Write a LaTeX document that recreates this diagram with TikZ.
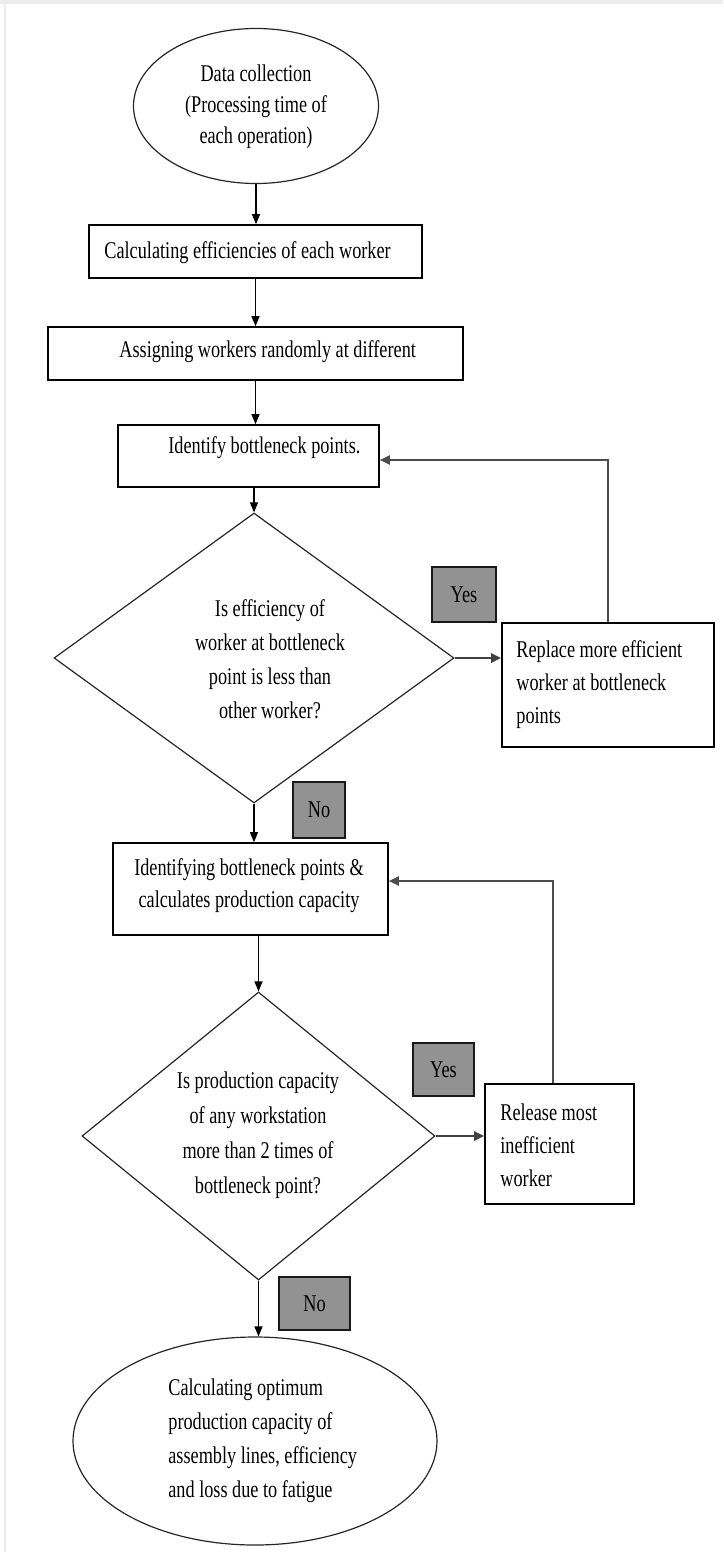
\documentclass[tikz,border=0pt]{standalone}
\usepackage{fontspec}
\setmainfont[FakeStretch=0.76]{Liberation Serif}
\usetikzlibrary{shapes.geometric,arrows.meta}
\definecolor{lblgray}{RGB}{146,146,146}
\definecolor{framegray}{RGB}{236,236,236}
\tikzset{
  box/.style={draw=black, line width=0.8pt, rectangle, inner sep=0pt, fill=white},
  dia/.style={draw=black!85, line width=0.6pt, diamond, inner sep=0pt, aspect=1},
  oval/.style={draw=black!85, line width=0.6pt, ellipse, inner sep=0pt},
  lbl/.style={draw=black!90, line width=0.9pt, fill=lblgray, rectangle, inner sep=0pt, font=\fontsize{12}{16}\selectfont},
  txt/.style={inner sep=0pt, font=\fontsize{12}{#1}\selectfont},
  txt/.default=17,
  arr/.style={line width=0.6pt, -{Triangle[length=5pt,width=4pt]}},
  thickarr/.style={line width=1.3pt, draw=black!75, -{Triangle[length=5pt,width=4.5pt]}},
  fb/.style={line width=1.0pt, draw=black!70, -{Triangle[length=5pt,width=4.5pt]}}
}
\begin{document}
\begin{tikzpicture}[x=0.5pt,y=-0.5pt]
\useasboundingbox (0,0) rectangle (723,1552);
\fill[framegray] (0,0) rectangle (723,4);
\draw[framegray, line width=0.8pt] (5,4) -- (5,1552);

% shapes
\node[oval, minimum width=122.5pt, minimum height=77.5pt] (e1) at (256,106) {};
\node[box, minimum width=166.5pt, minimum height=26.5pt] (b1) at (255.5,251.5) {};
\node[box, minimum width=207.5pt, minimum height=26.5pt] (b2) at (255.5,353.5) {};
\node[box, minimum width=130.5pt, minimum height=31pt] (b3) at (248.5,456) {};
\node[dia, minimum width=200pt, minimum height=145pt] (d1) at (254,658) {};
\node[lbl, minimum width=32pt, minimum height=27.5pt] (yes1) at (464,594.5) {Yes};
\node[box, minimum width=106pt, minimum height=62pt] (b4) at (608,685) {};
\node[lbl, minimum width=26pt, minimum height=28pt] (no1) at (319,810) {No};
\node[box, minimum width=137.5pt, minimum height=46pt] (b5) at (250.5,889) {};
\node[dia, minimum width=176.5pt, minimum height=144pt] (d2) at (258.5,1136) {};
\node[lbl, minimum width=30.5pt, minimum height=26.5pt] (yes2) at (443.5,1069.5) {Yes};
\node[box, minimum width=74.5pt, minimum height=60pt] (b6) at (559.5,1144) {};
\node[lbl, minimum width=35.5pt, minimum height=26.5pt] (no2) at (314.5,1303.5) {No};
\node[oval, minimum width=182pt, minimum height=104pt] (e2) at (255,1441) {};

% texts
\node[txt=15.5, align=center] (t1) at (256,107) {Data collection\\(Processing time of\\each operation)};
\node[txt, anchor=west] (tb1) at (104,253) {Calculating efficiencies of each worker};
\node[txt, anchor=west] (tb2) at (119,352) {Assigning workers randomly at different};
\node[txt, anchor=west] (tb3) at (168,448) {Identify bottleneck points.};
\node[txt=17, align=center] (td1) at (270,659) {Is efficiency of\\worker at bottleneck\\point is less than\\other worker?};
\node[txt=16.5, align=left, anchor=west] (tb4) at (516,685) {Replace more efficient\\worker at bottleneck\\points};
\node[txt=16, align=center] (tb5) at (249,886) {Identifying bottleneck points \&\\calculates production capacity};
\node[txt=17.5, align=center] (td2) at (258,1135) {Is production capacity\\of any workstation\\more than 2 times of\\bottleneck point?};
\node[txt=16.5, align=left, anchor=west] (tb6) at (500,1145) {Release most\\inefficient\\worker};
\node[txt=17, align=left, anchor=west] (te2) at (168,1441) {Calculating optimum\\production capacity of\\assembly lines, efficiency\\and loss due to fatigue};

% connectors
\draw[arr] (e1.south) -- (e1.south |- b1.north);
\draw[arr] (b1.south) -- (b1.south |- b2.north);
\draw[arr] (b2.south) -- (b2.south |- b3.north);
\draw[arr] (b3.south -| d1.north) -- (d1.north);
\draw[thickarr] (d1.east) -- (d1.east -| b4.west);
\draw[fb] (b4.north) |- ([yshift=-2pt]b3.east);
\draw[arr] (d1.south) -- (d1.south |- b5.north);
\draw[arr] (d2.north |- b5.south) -- (d2.north);
\draw[thickarr] (d2.east) -- (d2.east -| b6.west);
\draw[fb] ([xshift=-3.25pt]b6.north) |- ([yshift=4pt]b5.east);
\draw[arr] (d2.south) -- (d2.south |- e2.north);
\end{tikzpicture}
\end{document}
